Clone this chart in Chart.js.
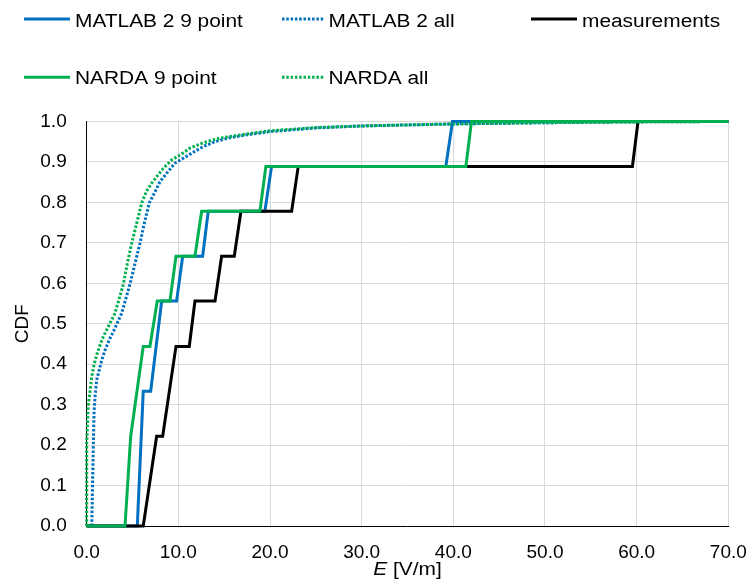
<!DOCTYPE html>
<html>
<head>
<meta charset="utf-8">
<script src="https://cdn.jsdelivr.net/npm/chart.js@4.4.0/dist/chart.umd.min.js"></script>
<style>
    html, body { margin: 0; padding: 0; background: #fff; }
    #wrap { width: 753px; height: 584px; position: relative; }
</style>
</head>
<body>
<div id="wrap"><canvas id="cdfChart" width="753" height="584"></canvas></div>
<script>
// values
const matlab9X = [0, 5.52, 6.17, 6.98, 8.18, 9.81, 10.47, 12.65, 13.26, 19.44, 20.17, 39.18, 39.91, 70];
const matlab9Y = [0, 0, 0.333, 0.333, 0.556, 0.556, 0.667, 0.667, 0.778, 0.778, 0.889, 0.889, 1.0, 1.0];

const matlabAllX = [0.55, 0.72, 0.80, 0.91, 1.09, 1.37, 1.64, 2.0, 2.54, 2.9, 3.82, 4.72, 5.27, 5.81, 6.28, 6.83, 7.45, 7.99, 8.72, 9.63, 10.53, 11.62, 12.72, 13.99, 15.63, 17.45, 20, 25, 30, 40, 50, 60, 70];
const matlabAllY = [0, 0.196, 0.279, 0.32, 0.361, 0.386, 0.41, 0.435, 0.464, 0.48, 0.526, 0.598, 0.649, 0.699, 0.748, 0.799, 0.826, 0.851, 0.872, 0.897, 0.909, 0.924, 0.938, 0.95, 0.96, 0.967, 0.975, 0.984, 0.989, 0.994, 0.997, 0.999, 1.0];

const measX = [0, 6.17, 7.63, 8.29, 9.74, 11.19, 11.81, 14.0, 14.72, 16.10, 16.83, 22.36, 23.08, 59.54, 60.15, 70];
const measY = [0, 0, 0.222, 0.222, 0.444, 0.444, 0.556, 0.556, 0.667, 0.667, 0.778, 0.778, 0.889, 0.889, 1.0, 1.0];

const narda9X = [0, 4.18, 4.80, 6.17, 6.90, 7.70, 9.08, 9.74, 11.81, 12.54, 18.90, 19.55, 41.37, 41.98, 70];
const narda9Y = [0, 0, 0.222, 0.444, 0.444, 0.556, 0.556, 0.667, 0.667, 0.778, 0.778, 0.889, 0.889, 1.0, 1.0];

const nardaAllX = [0, 0, 0.17, 0.36, 0.55, 0.8, 1.09, 1.45, 1.81, 2.18, 3.09, 4.0, 4.43, 4.91, 5.45, 6.0, 6.54, 7.2, 8.35, 9.27, 10.17, 11.26, 12.54, 14.18, 15.63, 17.45, 20, 25, 30, 40, 50, 60, 70];
const nardaAllY = [0, 0.205, 0.30, 0.332, 0.369, 0.398, 0.423, 0.447, 0.468, 0.485, 0.526, 0.598, 0.649, 0.699, 0.748, 0.799, 0.828, 0.851, 0.884, 0.905, 0.917, 0.934, 0.946, 0.957, 0.963, 0.969, 0.977, 0.985, 0.989, 0.994, 0.997, 0.999, 1.0];

const seriesLabels = ['MATLAB 2 9 point', 'MATLAB 2 all', 'measurements', 'NARDA 9 point', 'NARDA all'];
const xMin = 0, xMax = 70, xStep = 10;
const yMin = 0, yMax = 1, yStep = 0.1;

const FONT = 'Liberation Sans, Arial, sans-serif';
const BLUE = '#0070C0';
const GREEN = '#00B050';
const DOTS = [2.5, 1.8];
const STRETCH = 1.16;   // the reference text is a little wide

function toPoints(xs, ys) {
    return xs.map((x, i) => ({ x: x, y: ys[i] }));
}

function makeSet(label, xs, ys, color, dashed, order) {
    return {
        label: label,
        data: toPoints(xs, ys),
        borderColor: color,
        backgroundColor: color,
        borderWidth: 3,
        borderDash: dashed ? DOTS : [],
        borderCapStyle: 'butt',
        borderJoinStyle: 'miter',
        pointRadius: 0,
        pointHoverRadius: 0,
        showLine: true,
        tension: 0,
        fill: false,
        clip: false,
        order: order
    };
}

function wideText(c, str, x, y) {
    c.save();
    c.translate(x, y);
    c.scale(STRETCH, 1);
    c.fillText(str, 0, 0);
    c.restore();
}

// legend in the Excel style: 3 columns, 2 rows
const legendSlots = [
    { line: [24, 70], text: 75, y: 19, base: 26.7 },
    { line: [282, 325], text: 328.5, y: 19, base: 26.7 },
    { line: [531, 577], text: 582, y: 19, base: 26.7 },
    { line: [24, 70], text: 75, y: 77.3, base: 83.5 },
    { line: [282, 325], text: 328.5, y: 77.3, base: 83.5 }
];

const excelLegend = {
    id: 'excelLegend',
    afterDraw(chart) {
        const c = chart.ctx;
        c.save();
        c.textBaseline = 'alphabetic';
        c.textAlign = 'left';
        chart.data.datasets.forEach((ds, i) => {
            const s = legendSlots[i];
            c.beginPath();
            c.lineWidth = 3;
            c.strokeStyle = ds.borderColor;
            c.setLineDash(ds.borderDash);
            c.lineCap = 'butt';
            c.moveTo(s.line[0], s.y);
            c.lineTo(s.line[1], s.y);
            c.stroke();
            c.setLineDash([]);
            c.fillStyle = '#000';
            c.font = '18px ' + FONT;
            wideText(c, ds.label, s.text, s.base);
        });

        // x axis title with italic E
        const area = chart.chartArea;
        const cx = (area.left + area.right) / 2;
        const base = 574.5;
        c.font = 'italic 18px ' + FONT;
        const w1 = c.measureText('E').width * STRETCH;
        c.font = '18px ' + FONT;
        const w2 = c.measureText(' [V/m]').width * STRETCH;
        const x0 = cx - (w1 + w2) / 2;
        c.font = 'italic 18px ' + FONT;
        wideText(c, 'E', x0, base);
        c.font = '18px ' + FONT;
        wideText(c, ' [V/m]', x0 + w1, base);
        c.restore();
    }
};

const ctx = document.getElementById('cdfChart').getContext('2d');

const chart = new Chart(ctx, {
    type: 'scatter',
    data: {
        datasets: [
            makeSet(seriesLabels[0], matlab9X, matlab9Y, BLUE, false, 5),
            makeSet(seriesLabels[1], matlabAllX, matlabAllY, BLUE, true, 4),
            makeSet(seriesLabels[2], measX, measY, '#000000', false, 3),
            makeSet(seriesLabels[3], narda9X, narda9Y, GREEN, false, 2),
            makeSet(seriesLabels[4], nardaAllX, nardaAllY, GREEN, true, 1)
        ]
    },
    options: {
        responsive: false,
        animation: false,
        devicePixelRatio: 1,
        layout: {
            padding: { top: 121.5, right: 24.7, bottom: 0, left: 0 }
        },
        plugins: {
            legend: { display: false },
            tooltip: { enabled: false },
            title: { display: false }
        },
        scales: {
            x: {
                type: 'linear',
                min: xMin,
                max: xMax,
                ticks: {
                    stepSize: xStep,
                    padding: 15,
                    color: '#000',
                    font: { family: FONT, size: 19 },
                    maxRotation: 0,
                    callback: v => v.toFixed(1)
                },
                grid: { color: '#d9d9d9', lineWidth: 1, drawTicks: false },
                border: { color: '#000', width: 1 },
                afterFit: s => {
                    s.height = 58;
                    s.paddingLeft = 0;
                    s.paddingRight = 0;
                }
            },
            y: {
                type: 'linear',
                min: yMin,
                max: yMax,
                ticks: {
                    stepSize: yStep,
                    padding: 20,
                    color: '#000',
                    font: { family: FONT, size: 19 },
                    callback: v => v.toFixed(1)
                },
                grid: { color: '#d9d9d9', lineWidth: 1, drawTicks: false },
                border: { color: '#000', width: 1 },
                title: {
                    display: true,
                    text: 'CDF',
                    color: '#000',
                    font: { family: FONT, size: 19 },
                    padding: { top: 11, bottom: 0 }
                },
                afterFit: s => { s.width = 86.7; }
            }
        }
    },
    plugins: [excelLegend]
});
</script>
</body>
</html>
